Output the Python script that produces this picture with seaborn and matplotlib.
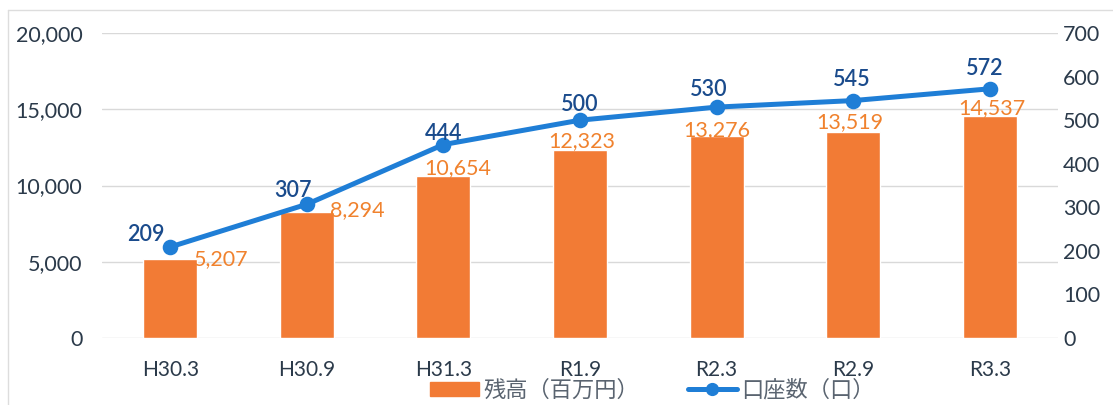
import matplotlib
matplotlib.use("Agg")
import matplotlib.pyplot as plt
import seaborn as sns
from matplotlib.patches import Patch
from matplotlib.lines import Line2D

periods = ["H30.3", "H30.9", "H31.3", "R1.9", "R2.3", "R2.9", "R3.3"]
balance = [5207, 8294, 10654, 12323, 13276, 13519, 14537]   # 残高（百万円）
accounts = [209, 307, 444, 500, 530, 545, 572]              # 口座数（口）

bar_color = "#F27B35"
line_color = "#1F7ED6"
bar_text = "#F0822E"
line_text = "#1A4B8C"
tick_color = "#2B3A4A"

sns.set_style("white")
plt.rcParams["font.family"] = ["Lato", "Noto Sans CJK JP", "DejaVu Sans"]

fig = plt.figure(figsize=(11.13, 4.05), dpi=100)
ax = fig.add_axes([0.0916, 0.1654, 0.859, 0.753])

sns.barplot(x=periods, y=balance, ax=ax, color=bar_color, width=0.395,
            saturation=1, zorder=2)
ax.set_ylim(0, 20000)
ax.set_yticks([0, 5000, 10000, 15000, 20000])
ax.set_yticklabels([f"{v:,}" for v in ax.get_yticks().astype(int)])
ax.grid(axis="y", color="#D9D9D9", linewidth=1)
ax.set_axisbelow(True)
for s in ax.spines.values():
    s.set_visible(False)
ax.tick_params(axis="y", length=0, pad=14, labelsize=15.5, labelcolor=tick_color)
ax.tick_params(axis="x", length=0, pad=16, labelsize=15, labelcolor=tick_color)
ax.set_xlabel("")
ax.set_ylabel("")

ax2 = ax.twinx()
sns.pointplot(x=periods, y=accounts, ax=ax2, color=line_color, markers="o",
              linestyles="-", linewidth=3.6, markersize=8.5)
ax2.set_ylim(0, 700)
ax2.set_yticks(range(0, 701, 100))
for s in ax2.spines.values():
    s.set_visible(False)
ax2.tick_params(axis="y", length=0, pad=3.5, labelsize=15.5, labelcolor=tick_color)
ax2.set_ylabel("")
ax.set_xlim(-0.5, 6.5)
ax2.set_xlim(-0.5, 6.5)

# value labels for bars (Excel-style auto placement), offsets in pixels
bar_offsets = [(51, 2), (50, 3), (14, 9), (2, 11), (0, 7), (-3, 12), (2, 10)]
for i, (v, off) in enumerate(zip(balance, bar_offsets)):
    ax.annotate(f"{v:,}", (i, v), xytext=off, textcoords="offset pixels",
                ha="center", va="center_baseline", fontsize=15.5, color=bar_text)

line_offsets = [(-24, 14), (-14, 16), (0, 13), (0, 18), (-8, 20), (-1, 23), (-5, 22)]
for i, (v, off) in enumerate(zip(accounts, line_offsets)):
    ax2.annotate(f"{v}", (i, v), xytext=off, textcoords="offset pixels",
                 ha="center", va="center_baseline", fontsize=15.5,
                 color=line_text, fontweight="semibold")

handles = [
    Patch(facecolor=bar_color, edgecolor=bar_color, label="残高（百万円）"),
    Line2D([0], [0], color=line_color, linewidth=3.6, marker="o",
           markersize=8.5, label="口座数（口）"),
]
leg = fig.legend(handles=handles, loc="center", ncol=2, frameon=False,
                 bbox_to_anchor=(0.586, 0.037), handlelength=2.2,
                 columnspacing=2.2, handletextpad=0.2, handleheight=0.6,
                 prop={"family": ["Noto Sans CJK JP"], "size": 16})
for t in leg.get_texts():
    t.set_color("#5A6470")

# faint chart-area border
fig.add_artist(Line2D([0.007, 1], [0.975, 0.975], color="#DDDDDD", linewidth=1))
fig.add_artist(Line2D([0.007, 0.007], [0, 0.975], color="#DDDDDD", linewidth=1))

fig.savefig("out.png", dpi=100)
